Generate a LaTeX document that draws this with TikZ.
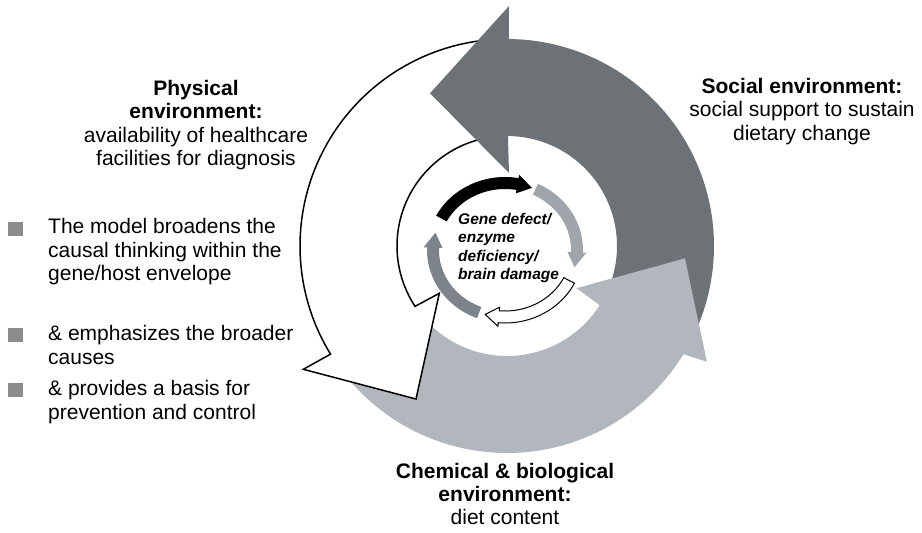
\documentclass[tikz,border=0pt]{standalone}
\usepackage{fontspec}
\setmainfont{Liberation Sans}
\definecolor{darkg}{RGB}{108,114,118}
\definecolor{lightg}{RGB}{178,183,190}
\definecolor{smlight}{RGB}{160,165,172}
\definecolor{smdark}{RGB}{125,131,138}
\definecolor{bulletg}{RGB}{140,140,140}
\newcommand{\smarr}[4]{%
  \path[#4] plot[domain=#1:#2,samples=40] ({505+78*cos(\x)},{250-73*sin(\x)})
    -- ({505+81.5*cos(#2)},{250-76.5*sin(#2)})
    -- ({505+72*cos(#3)},{250-67*sin(#3)})
    -- ({505+62.5*cos(#2)},{250-57.5*sin(#2)})
    -- plot[domain=#2:#1,samples=40] ({505+66*cos(\x)},{250-61*sin(\x)}) -- cycle;}
\tikzset{
  bigtext/.style={font=\fontsize{21}{23.5}\selectfont, inner sep=0pt},
  bullettext/.style={bigtext, align=left, anchor=north west},
  bulletbox/.style={fill=bulletg, minimum width=15pt, minimum height=14pt, inner sep=0pt},
}
\begin{document}
\begin{tikzpicture}[x=1pt,y=-1pt]
\useasboundingbox (0,0) rectangle (922,533);
% light grey big arrow
\fill[lightg] plot[domain=214:328.5,samples=80] ({507+207*cos(\x)},{246-207*sin(\x)})
  -- (706.7,361.7) -- (685,258.3) -- (576.7,288.3)
  -- plot[domain=327.4:214,samples=80] ({507+110*cos(\x)},{246-110*sin(\x)}) -- cycle;
% white big arrow
\filldraw[fill=white,draw=black,line width=1.5pt,line join=miter]
  plot[domain=92:211.5,samples=80] ({507+207*cos(\x)},{246-207*sin(\x)})
  -- (303.3,369.3) -- (416,399) -- (439.3,293.3)
  -- plot[domain=213.3:92,samples=80] ({507+110*cos(\x)},{246-110*sin(\x)}) -- cycle;
% dark big arrow
\fill[darkg] plot[domain=-29:89.5,samples=80] ({507+207*cos(\x)},{246-207*sin(\x)})
  -- (509,6) -- (430,93.3) -- (509,173)
  -- plot[domain=89.5:-29,samples=80] ({507+110*cos(\x)},{246-110*sin(\x)}) -- cycle;
% light grey head on top of dark tail
\fill[lightg] (706.7,361.7) -- (685,258.3) -- (576.7,288.3) -- cycle;
% small cycle
\smarr{152}{80}{68}{fill=black}
\smarr{65}{-2}{-15}{fill=smlight}
\smarr{-27}{-95}{-106}{fill=white,draw=black,line width=1pt,line join=miter}
\smarr{-111}{-182}{-195}{fill=smdark}
\node[font=\fontsize{15.5}{18.5}\selectfont\bfseries\itshape, align=left, anchor=north west, inner sep=0pt] (gene) at (458,213) {Gene defect/\\enzyme\\deficiency/\\brain damage};
% labels
\node[bigtext, align=center, anchor=north] (phys) at (196,79.7) {\textbf{Physical}\\\textbf{environment:}\\availability of healthcare\\facilities for diagnosis};
\node[bigtext, align=center, anchor=north] (soc) at (802,78) {\textbf{Social environment:}\\social support to sustain\\dietary change};
\node[bigtext, font=\fontsize{21}{23}\selectfont, align=center, anchor=north] (chem) at (505,462.7) {\textbf{Chemical \& biological}\\\textbf{environment:}\\diet content};
% bullets
\node[bulletbox] (b1) at (15.5,228.5) {};
\node[bulletbox] (b2) at (15.5,335) {};
\node[bulletbox] (b3) at (15.5,390) {};
\node[bullettext] (t1) at (48,218.2) {The model broadens the\\causal thinking within the\\gene/host envelope};
\node[bullettext] (t2) at (48,325.2) {\& emphasizes the broader\\causes};
\node[bullettext] (t3) at (48,380.2) {\& provides a basis for\\prevention and control};
\end{tikzpicture}
\end{document}
